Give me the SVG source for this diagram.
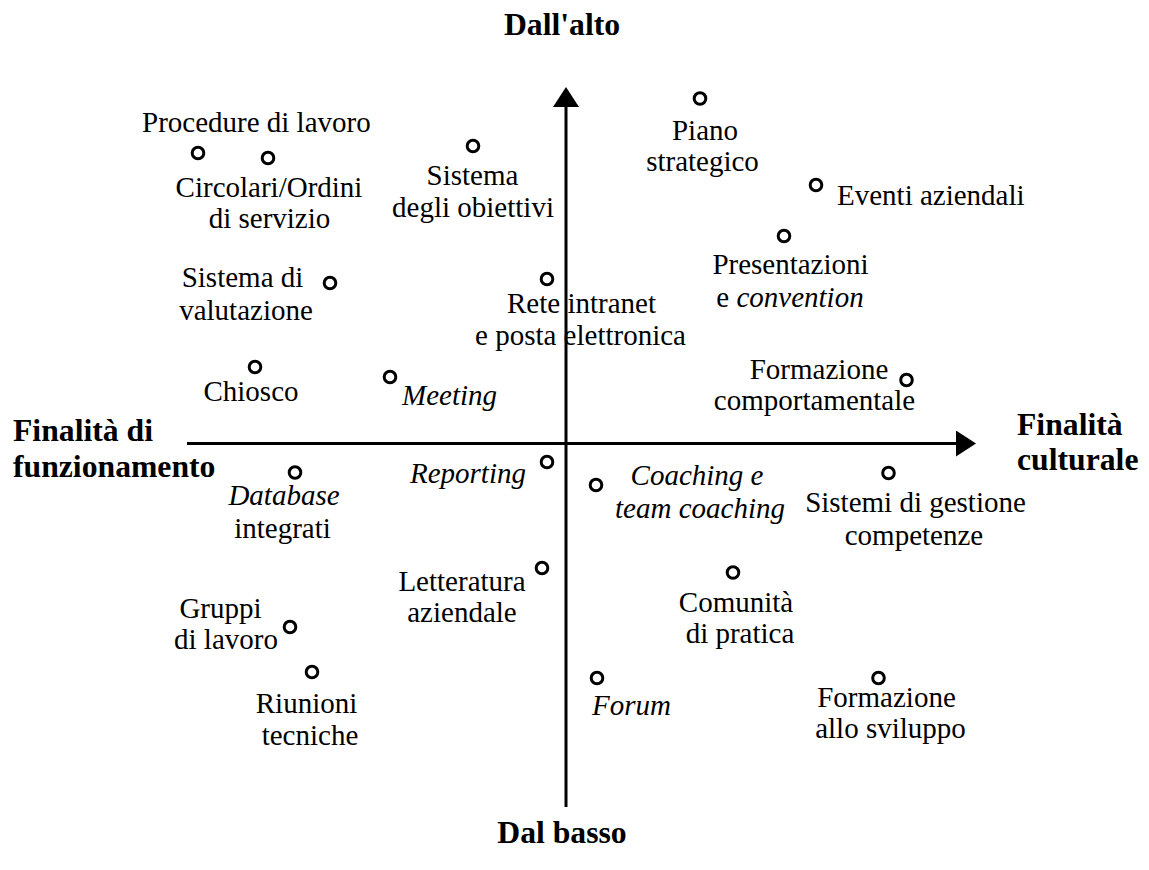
<svg xmlns="http://www.w3.org/2000/svg" width="1149" height="870" viewBox="0 0 1149 870">
  <style>
    text { font-family: "Liberation Serif", "Times New Roman", serif; fill: #000; }
    .lbl { font-size: 29px; }
    .c { text-anchor: middle; }
    .it { font-style: italic; }
    .ax { font-size: 31.7px; font-weight: bold; }
    .pt { fill: none; stroke: #000; stroke-width: 3; }
    .axis { stroke: #000; stroke-width: 3; fill: none; }
  </style>
  <defs>
    <marker id="head" viewBox="0 0 20 26" refX="0" refY="13" markerWidth="20" markerHeight="26" markerUnits="userSpaceOnUse" orient="auto">
      <path d="M0,0 L20,13 L0,26 Z" fill="#000"/>
    </marker>
  </defs>
  <rect width="1149" height="870" fill="#fff"/>

  <!-- axes -->
  <g id="connectors">
    <line class="axis" x1="566" y1="807" x2="566" y2="107" marker-end="url(#head)"/>
    <line class="axis" x1="187" y1="443.5" x2="956" y2="443.5" marker-end="url(#head)"/>
  </g>

  <!-- axis titles -->
  <g id="axis-labels">
    <text class="ax c" x="562" y="35">Dall'alto</text>
    <text class="ax c" x="562" y="843">Dal basso</text>
    <text class="ax" x="13" y="441">Finalità di</text>
    <text class="ax" x="13" y="477">funzionamento</text>
    <text class="ax" x="1017" y="435">Finalità</text>
    <text class="ax" x="1017" y="470">culturale</text>
  </g>

  <!-- upper-left quadrant -->
  <g id="procedure">
    <circle class="pt" cx="198" cy="153" r="5.8"/>
    <text class="lbl" x="142" y="132">Procedure di lavoro</text>
  </g>
  <g id="circolari">
    <circle class="pt" cx="268" cy="158" r="5.8"/>
    <text class="lbl c" x="269" y="197">Circolari/Ordini</text>
    <text class="lbl c" x="269.5" y="228">di servizio</text>
  </g>
  <g id="sistema-obiettivi">
    <circle class="pt" cx="473" cy="146" r="5.8"/>
    <text class="lbl c" x="472.5" y="185">Sistema</text>
    <text class="lbl c" x="473" y="217">degli obiettivi</text>
  </g>
  <g id="sistema-valutazione">
    <circle class="pt" cx="330" cy="283" r="5.8"/>
    <text class="lbl c" x="242.5" y="287">Sistema di</text>
    <text class="lbl c" x="246" y="320">valutazione</text>
  </g>
  <g id="rete-intranet">
    <circle class="pt" cx="547" cy="279" r="5.8"/>
    <text class="lbl c" x="581.5" y="313">Rete intranet</text>
    <text class="lbl c" x="580.5" y="345">e posta elettronica</text>
  </g>
  <g id="chiosco">
    <circle class="pt" cx="255" cy="367" r="5.8"/>
    <text class="lbl c" x="251" y="401">Chiosco</text>
  </g>
  <g id="meeting">
    <circle class="pt" cx="390" cy="377" r="5.8"/>
    <text class="lbl it" x="402" y="405">Meeting</text>
  </g>

  <!-- upper-right quadrant -->
  <g id="piano-strategico">
    <circle class="pt" cx="700" cy="98.5" r="5.8"/>
    <text class="lbl c" x="705" y="140">Piano</text>
    <text class="lbl c" x="702.5" y="171">strategico</text>
  </g>
  <g id="eventi-aziendali">
    <circle class="pt" cx="816" cy="185" r="5.8"/>
    <text class="lbl" x="837" y="205">Eventi aziendali</text>
  </g>
  <g id="presentazioni">
    <circle class="pt" cx="784" cy="236" r="5.8"/>
    <text class="lbl c" x="790.5" y="274">Presentazioni</text>
    <text class="lbl c" x="790" y="306.5">e <tspan class="it">convention</tspan></text>
  </g>
  <g id="formazione-comportamentale">
    <circle class="pt" cx="906.5" cy="380" r="5.8"/>
    <text class="lbl c" x="819" y="378.5">Formazione</text>
    <text class="lbl c" x="814.5" y="410">comportamentale</text>
  </g>

  <!-- lower-left quadrant -->
  <g id="database">
    <circle class="pt" cx="295" cy="472.5" r="5.8"/>
    <text class="lbl c it" x="284" y="505">Database</text>
    <text class="lbl c" x="282.5" y="538">integrati</text>
  </g>
  <g id="reporting">
    <circle class="pt" cx="547" cy="462" r="5.8"/>
    <text class="lbl it" x="410" y="483">Reporting</text>
  </g>
  <g id="letteratura">
    <circle class="pt" cx="542" cy="568" r="5.8"/>
    <text class="lbl c" x="462" y="591">Letteratura</text>
    <text class="lbl c" x="462" y="622">aziendale</text>
  </g>
  <g id="gruppi">
    <circle class="pt" cx="290" cy="627" r="5.8"/>
    <text class="lbl c" x="220.5" y="618">Gruppi</text>
    <text class="lbl c" x="226" y="649">di lavoro</text>
  </g>
  <g id="riunioni">
    <circle class="pt" cx="312" cy="672" r="5.8"/>
    <text class="lbl c" x="306.5" y="713">Riunioni</text>
    <text class="lbl c" x="310" y="745">tecniche</text>
  </g>

  <!-- lower-right quadrant -->
  <g id="coaching">
    <circle class="pt" cx="596" cy="485" r="5.8"/>
    <text class="lbl c it" x="697" y="485">Coaching e</text>
    <text class="lbl c it" x="700" y="518">team coaching</text>
  </g>
  <g id="gestione-competenze">
    <circle class="pt" cx="888.5" cy="473" r="5.8"/>
    <text class="lbl c" x="915.5" y="512">Sistemi di gestione</text>
    <text class="lbl c" x="914" y="545">competenze</text>
  </g>
  <g id="comunita">
    <circle class="pt" cx="733" cy="572.5" r="5.8"/>
    <text class="lbl c" x="736" y="612">Comunità</text>
    <text class="lbl c" x="740" y="643">di pratica</text>
  </g>
  <g id="forum">
    <circle class="pt" cx="597" cy="678" r="5.8"/>
    <text class="lbl it" x="592" y="715">Forum</text>
  </g>
  <g id="formazione-sviluppo">
    <circle class="pt" cx="878.5" cy="678" r="5.8"/>
    <text class="lbl c" x="886.5" y="707">Formazione</text>
    <text class="lbl c" x="890.5" y="738">allo sviluppo</text>
  </g>
</svg>
